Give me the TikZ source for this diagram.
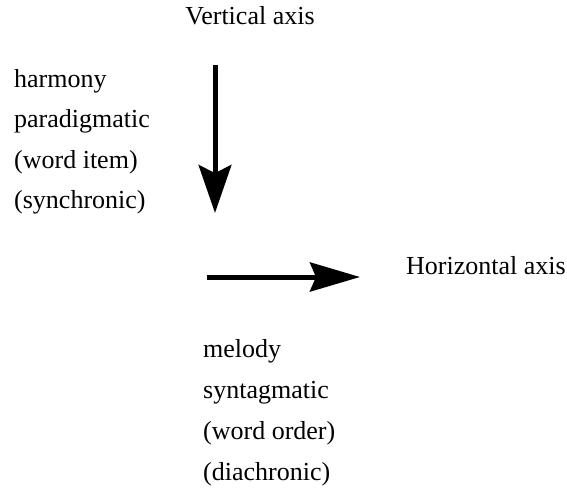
\documentclass[tikz,border=0pt]{standalone}
\usepackage{fontspec}
\setmainfont{Liberation Serif}
\usetikzlibrary{arrows.meta}

\begin{document}
\begin{tikzpicture}[x=1pt,y=-1pt,font=\fontsize{26}{30}\selectfont,
      axisword/.style={inner sep=0pt,anchor=base west},
      axisarrow/.style={line width=5pt,
        -{Stealth[length=#1,width=0.68*#1,inset=0.17*#1]}}]
      \useasboundingbox (0,0) rectangle (567,495);
      \node[axisword,anchor=base] (vert) at (250,25) {Vertical axis};
      \node[axisword] (horiz) at (406,274) {Horizontal axis};
      \foreach \word [count=\i] in {harmony,paradigmatic,{(word item)},{(synchronic)}}
        \node[axisword] (para\i) at (14,87+40.5*\i-40.5) {\word};
      \foreach \word [count=\i] in {melody,syntagmatic,{(word order)},{(diachronic)}}
        \node[axisword] (synt\i) at (203,357+41*\i-41) {\word};
      \coordinate (vtop) at (215,65);
      \coordinate (vtip) at (215,213);
      \coordinate (hstart) at (207,277);
      \coordinate (htip) at (360,277);
      \draw[axisarrow=48pt] (vtop) -- (vtip);
      \draw[axisarrow=50pt,-{Stealth[length=50pt,width=29pt,inset=6pt]}] (hstart) -- (htip);
    \end{tikzpicture}
\end{document}
